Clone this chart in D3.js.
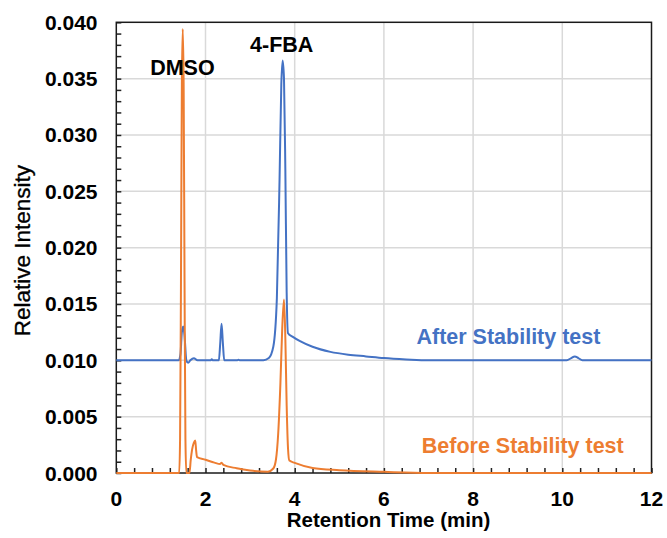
<!DOCTYPE html>
<html lang="en">
<head>
<meta charset="UTF-8" />
<title>Relative Intensity vs Retention Time</title>
<script src="https://d3js.org/d3.v7.min.js"></script>
<style>
  body { margin: 0; background: #fff; }
  svg { display: block; font-family: "Liberation Sans", Arial, sans-serif; }
  .tick-label { font-size: 21px; font-weight: bold; fill: #000; }
  .grid line { stroke: #d9d9d9; stroke-width: 1.5; }
</style>
</head>
<body>
<div id="chart"></div>
<script>
// Blue trace: after stability test (offset baseline 0.010)
const afterTime = [0, 1.40, 1.44, 1.47, 1.50, 1.53, 1.57, 1.61, 1.66, 1.74, 1.82, 2.00, 2.12, 2.14, 2.17,
  2.30, 2.33, 2.36, 2.39, 2.42, 2.70, 2.74, 2.78, 3.30, 3.42, 3.52, 3.60, 3.66, 3.70, 3.73, 3.76,
  3.79, 3.82, 3.85, 3.95, 4.12, 4.40, 4.80, 5.20, 5.60, 6.00, 6.50, 7.00, 10.10, 10.20, 10.28,
  10.36, 10.45, 12];
const afterIntensity = [0.0100, 0.0100, 0.0106, 0.0125, 0.0130, 0.0122, 0.0100, 0.00978, 0.0100, 0.01018,
  0.0100, 0.0100, 0.0100, 0.0101, 0.0100, 0.0100, 0.0115, 0.01325, 0.0115, 0.0100, 0.0100, 0.01005,
  0.0100, 0.0100, 0.0102, 0.0112, 0.0155, 0.0260, 0.0345, 0.0366, 0.0350, 0.0270, 0.0160, 0.0124,
  0.0121, 0.0117, 0.0112, 0.01075, 0.0105, 0.01035, 0.0102, 0.01008, 0.0100, 0.0100, 0.0102,
  0.01035, 0.0102, 0.0100, 0.0100];

// Orange trace: before stability test
const beforeTime = [0, 1.41, 1.43, 1.45, 1.47, 1.49, 1.51, 1.53, 1.55, 1.57, 1.64, 1.67, 1.70, 1.74,
  1.77, 1.79, 1.81, 2.00, 2.20, 2.33, 2.36, 2.40, 2.70, 3.00, 3.40, 3.52, 3.58, 3.63, 3.68, 3.72,
  3.76, 3.79, 3.82, 3.85, 3.88, 4.00, 4.40, 5.00, 6.00, 7.00, 12];
const beforeIntensity = [0, 0, 0.0030, 0.0170, 0.0345, 0.0394, 0.0345, 0.0170, 0.0030, 0, 0, 0.0012,
  0.0021, 0.0027, 0.00288, 0.0020, 0.0014, 0.00118, 0.00092, 0.0008, 0.00092, 0.00072, 0.00042,
  0.00022, 0.00012, 0.0004, 0.0012, 0.0035, 0.0080, 0.0128, 0.0154, 0.0120, 0.0060, 0.0022,
  0.0011, 0.0009, 0.00045, 0.00025, 0.0001, 0, 0];

const xMajor = [0, 2, 4, 6, 8, 10, 12];
const yMajor = [0, 0.005, 0.010, 0.015, 0.020, 0.025, 0.030, 0.035, 0.040];

const W = 667, H = 538;
const plotL = 116.3, plotR = 651.5, plotT = 22.3, plotB = 473;

const svg = d3.select("#chart").append("svg")
  .attr("width", W).attr("height", H);

const x = d3.scaleLinear().domain([0, 12]).range([plotL, plotR]);
const y = d3.scaleLinear().domain([0, 0.04]).range([plotB, plotT]);

// grid
const grid = svg.append("g").attr("class", "grid");
grid.selectAll(".gx").data(xMajor.slice(1, -1)).enter().append("line")
  .attr("x1", d => x(d)).attr("x2", d => x(d))
  .attr("y1", plotT).attr("y2", plotB);
grid.selectAll(".gy").data(yMajor.slice(1, -1)).enter().append("line")
  .attr("x1", plotL).attr("x2", plotR)
  .attr("y1", d => y(d)).attr("y2", d => y(d));

// inward minor ticks
const xMinor = d3.range(0, 12.001, 0.4);
const yMinor = d3.range(0, 0.04001, 0.001);
svg.append("g")
  .attr("transform", `translate(0,${plotB})`)
  .call(d3.axisBottom(x).tickValues(xMinor).tickSize(-5).tickFormat(""))
  .call(g => g.select(".domain").remove())
  .selectAll("line").attr("stroke", "#222").attr("stroke-width", 1.5);
svg.append("g")
  .attr("transform", `translate(${plotL},0)`)
  .call(d3.axisLeft(y).tickValues(yMinor).tickSize(-5).tickFormat(""))
  .call(g => g.select(".domain").remove())
  .selectAll("line").attr("stroke", "#222").attr("stroke-width", 1.5);

// frame
svg.append("rect")
  .attr("x", plotL).attr("y", plotT)
  .attr("width", plotR - plotL).attr("height", plotB - plotT)
  .attr("fill", "none").attr("stroke", "#1a1a1a").attr("stroke-width", 1.5);

// tick labels
svg.selectAll(".xl").data(xMajor).enter().append("text")
  .attr("class", "tick-label")
  .attr("x", d => x(d)).attr("y", plotB + 33)
  .attr("text-anchor", "middle")
  .text(d => d);
svg.selectAll(".yl").data(yMajor).enter().append("text")
  .attr("class", "tick-label")
  .attr("x", 97.5).attr("y", d => y(d) + 7.5)
  .attr("text-anchor", "end")
  .text(d => d3.format(".3f")(d));

// axis titles
svg.append("text")
  .attr("x", 388.5).attr("y", 527)
  .attr("text-anchor", "middle")
  .attr("font-size", 20.5).attr("font-weight", "bold")
  .text("Retention Time (min)");
svg.append("text")
  .attr("transform", `translate(29.5,${(plotT + plotB) / 2 + 3}) rotate(-90)`)
  .attr("text-anchor", "middle")
  .attr("font-size", 22.5)
  .attr("stroke", "#000").attr("stroke-width", 0.3)
  .text("Relative Intensity");

// traces
const line = d3.line()
  .x(d => x(d[0])).y(d => y(d[1]))
  .curve(d3.curveMonotoneX);

svg.append("path")
  .datum(d3.zip(afterTime, afterIntensity))
  .attr("fill", "none").attr("stroke", "#4472C4").attr("stroke-width", 2)
  .attr("stroke-linejoin", "round")
  .attr("d", line);

svg.append("path")
  .datum(d3.zip(beforeTime, beforeIntensity))
  .attr("fill", "none").attr("stroke", "#ED7D31").attr("stroke-width", 2)
  .attr("stroke-linejoin", "round")
  .attr("d", line);

// annotations (data coordinates)
const notes = [
  { text: "DMSO", t: 0.76, v: 0.03532, color: "#000" },
  { text: "4-FBA", t: 3.0, v: 0.0374, color: "#000" },
  { text: "After Stability test", t: 6.73, v: 0.01148, color: "#4472C4" },
  { text: "Before Stability test", t: 6.85, v: 0.00181, color: "#ED7D31" }
];
svg.selectAll(".note").data(notes).enter().append("text")
  .attr("x", d => x(d.t)).attr("y", d => y(d.v))
  .attr("font-size", 21.5).attr("font-weight", "bold")
  .attr("fill", d => d.color)
  .text(d => d.text);
</script>
</body>
</html>
